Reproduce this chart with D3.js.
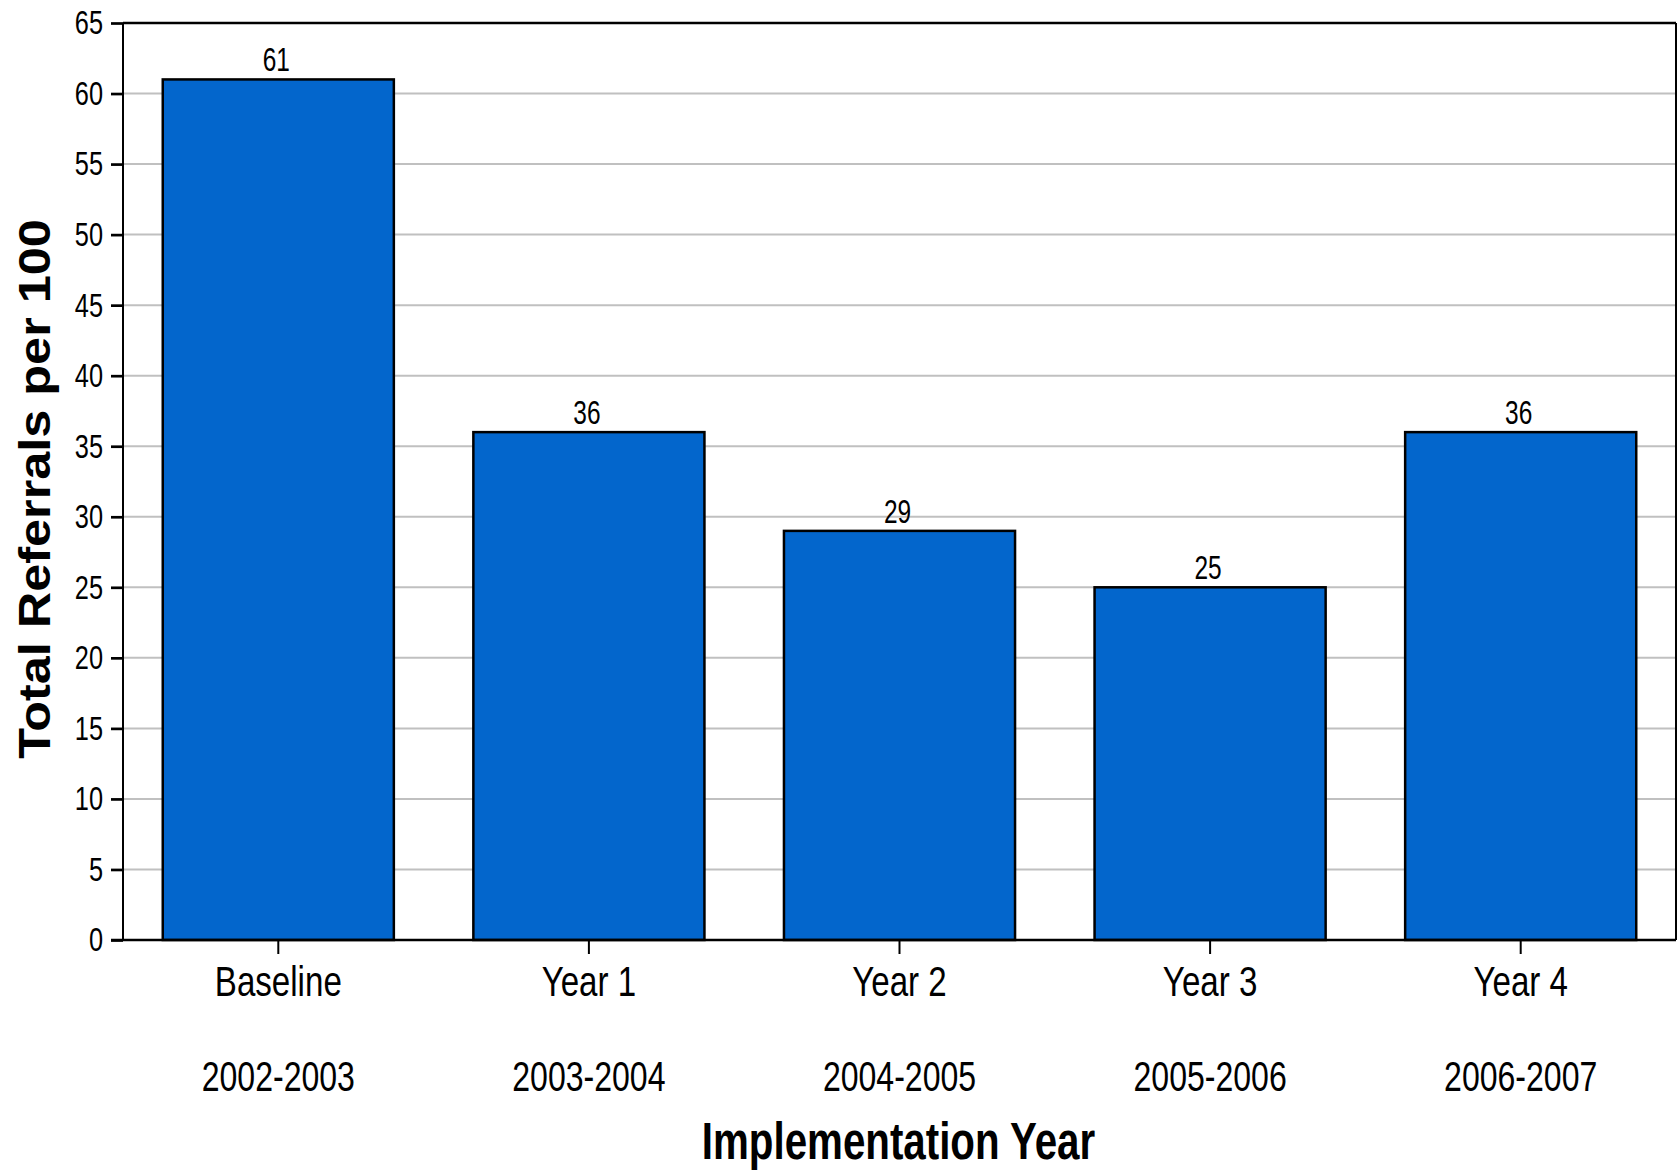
<!DOCTYPE html>
<html>
<head>
<meta charset="utf-8">
<script src="https://cdn.jsdelivr.net/npm/d3@7"></script>
<style>
  html, body { margin: 0; padding: 0; background: #ffffff; }
  svg { display: block; }
  text { font-family: "Liberation Sans", Arial, sans-serif; fill: #000; }
</style>
</head>
<body>
<svg id="chart" width="1678" height="1171"></svg>
<script>
// ---- data ----
const categories = ["Baseline", "Year 1", "Year 2", "Year 3", "Year 4"];
const periods = ["2002-2003", "2003-2004", "2004-2005", "2005-2006", "2006-2007"];
const values = [61, 36, 29, 25, 36];
const yTickValues = [0, 5, 10, 15, 20, 25, 30, 35, 40, 45, 50, 55, 60, 65];
const yMax = 65;
const xTitle = "Implementation Year";
const yTitle = "Total Referrals per 100";

// ---- layout ----
const plot = { left: 123, right: 1676, top: 23, bottom: 940 };

const svg = d3.select("#chart");

const x = d3.scaleBand()
  .domain(categories)
  .range([plot.left, plot.right])
  .paddingInner(0.256)
  .paddingOuter(0.128);

const y = d3.scaleLinear()
  .domain([0, yMax])
  .range([plot.bottom, plot.top]);

// gridlines
svg.append("g")
  .selectAll("line")
  .data(yTickValues.filter(v => v > 0 && v < yMax))
  .join("line")
  .attr("x1", plot.left).attr("x2", plot.right)
  .attr("y1", d => y(d)).attr("y2", d => y(d))
  .attr("stroke", "#c0c0c0")
  .attr("stroke-width", 2);

// bars
svg.append("g")
  .selectAll("rect")
  .data(values)
  .join("rect")
  .attr("x", (d, i) => x(categories[i]))
  .attr("width", x.bandwidth())
  .attr("y", d => y(d))
  .attr("height", d => y(0) - y(d))
  .attr("fill", "#0366cc")
  .attr("stroke", "#000")
  .attr("stroke-width", 2.5);

// bar value labels
svg.append("g")
  .selectAll("text")
  .data(values)
  .join("text")
  .attr("class", "cond")
  .attr("data-f", 0.74)
  .attr("x", (d, i) => x(categories[i]) + x.bandwidth() / 2 - 2)
  .attr("y", d => y(d) - 8)
  .attr("text-anchor", "middle")
  .attr("font-size", 33)
  .text(d => d);

// frame: top and right
svg.append("line")
  .attr("x1", plot.left).attr("x2", plot.right)
  .attr("y1", plot.top).attr("y2", plot.top)
  .attr("stroke", "#000").attr("stroke-width", 2.7);
svg.append("line")
  .attr("x1", plot.right).attr("x2", plot.right)
  .attr("y1", plot.top).attr("y2", plot.bottom)
  .attr("stroke", "#000").attr("stroke-width", 2);

// y axis
const yAxis = d3.axisLeft(y)
  .tickValues(yTickValues)
  .tickSize(12)
  .tickPadding(8)
  .tickFormat(d3.format("d"));
const gy = svg.append("g")
  .attr("transform", `translate(${plot.left},0)`)
  .call(yAxis);
gy.select(".domain").attr("stroke", "#000").attr("stroke-width", 2).attr("d", `M0,${plot.top}V${plot.bottom}`);
gy.selectAll(".tick line").attr("stroke", "#000").attr("stroke-width", 2.7);
gy.selectAll(".tick text")
  .attr("class", "cond")
  .attr("data-f", 0.745)
  .attr("font-size", 34)
  .attr("font-family", "Liberation Sans, Arial, sans-serif")
  .attr("fill", "#000");

// x axis
const xAxis = d3.axisBottom(x).tickSize(14).tickFormat("");
const gx = svg.append("g")
  .attr("transform", `translate(0,${plot.bottom})`)
  .call(xAxis);
gx.select(".domain").attr("stroke", "#000").attr("stroke-width", 2.7)
  .attr("d", `M${plot.left - 12},0H${plot.right}`);
gx.selectAll(".tick line").attr("stroke", "#000").attr("stroke-width", 2);
gx.selectAll(".tick").each(function (d, i) {
  const t = d3.select(this);
  t.append("text")
    .attr("class", "cond")
    .attr("data-f", 0.77)
    .attr("y", 56)
    .attr("text-anchor", "middle")
    .attr("font-size", 43)
    .attr("fill", "#000")
    .attr("font-family", "Liberation Sans, Arial, sans-serif")
    .text(categories[i]);
  t.append("text")
    .attr("class", "cond")
    .attr("data-f", 0.745)
    .attr("y", 151)
    .attr("text-anchor", "middle")
    .attr("font-size", 43)
    .attr("fill", "#000")
    .attr("font-family", "Liberation Sans, Arial, sans-serif")
    .text(periods[i]);
});

// axis titles
svg.append("text")
  .attr("class", "cond")
  .attr("data-f", 0.79)
  .attr("x", (plot.left + plot.right) / 2 - 1)
  .attr("y", 1159)
  .attr("text-anchor", "middle")
  .attr("font-size", 51)
  .attr("font-weight", "bold")
  .text(xTitle);

svg.append("text")
  .attr("class", "cond")
  .attr("data-f", 1.12)
  .attr("transform", `translate(50,489) rotate(-90)`)
  .attr("text-anchor", "middle")
  .attr("font-size", 45)
  .attr("font-weight", "bold")
  .text(yTitle);

// condense/expand text widths to mimic the original face
svg.selectAll("text.cond").each(function () {
  const f = +this.getAttribute("data-f");
  const len = this.getComputedTextLength();
  this.setAttribute("textLength", (len * f).toFixed(1));
  this.setAttribute("lengthAdjust", "spacingAndGlyphs");
});
</script>
</body>
</html>
